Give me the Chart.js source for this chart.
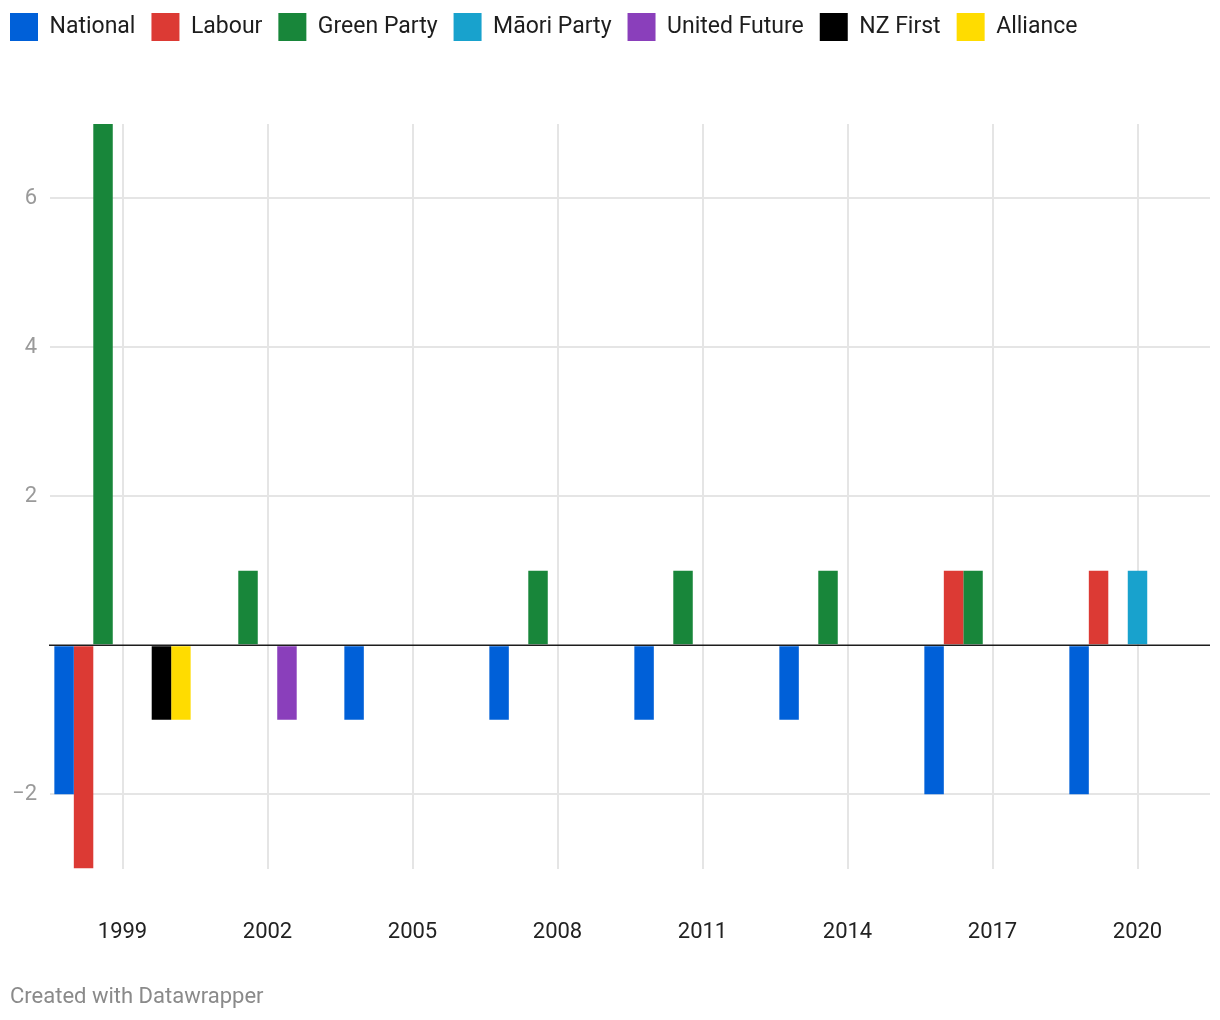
<!DOCTYPE html>
<html>
<head>
<meta charset="utf-8">
<script src="https://cdn.jsdelivr.net/npm/chart.js@4"></script>
<style>
html,body{margin:0;padding:0;background:#fff;width:1220px;height:1020px;overflow:hidden;}
#wrap{position:absolute;left:-6px;top:-3px;width:1226px;height:1023px;}
#footer{position:absolute;left:10px;top:985px;font-family:Roboto,sans-serif;font-size:22px;line-height:22px;color:#8a8a8a;white-space:nowrap;}
</style>
</head>
<body>
<div id="wrap"><canvas id="c" width="1226" height="1023"></canvas></div>
<div id="footer">Created with Datawrapper</div>
<script>
// Categories (election years)
const years = ['1999', '2002', '2005', '2008', '2011', '2014', '2017', '2020'];
// Series values
const national     = [-2, 0, -1, -1, -1, -1, -2, -2];
const labour       = [-3, 0, 0, 0, 0, 0, 1, 1];
const green        = [7, 1, 0, 1, 1, 1, 1, 0];
const maori        = [0, 0, 0, 0, 0, 0, 0, 1];
const unitedFuture = [0, -1, 0, 0, 0, 0, 0, 0];
const nzFirst      = [-1, 0, 0, 0, 0, 0, 0, 0];
const alliance     = [-1, 0, 0, 0, 0, 0, 0, 0];
// Y tick values
const yTicks = [-2, 0, 2, 4, 6];

Chart.defaults.font.family = 'Roboto';

const legendSpacer = {
  id: 'legendSpacer',
  beforeInit(chart) {
    const orig = chart.legend.fit;
    chart.legend.fit = function () { orig.call(this); this.height = 127; };
  }
};

const zeroLine = {
  id: 'zeroLine',
  afterDatasetsDraw(chart) {
    const { ctx, chartArea, scales } = chart;
    const py = scales.y.getPixelForValue(0);
    ctx.save();
    ctx.strokeStyle = '#1d1d1d';
    ctx.lineWidth = 1.6;
    ctx.beginPath();
    ctx.moveTo(chartArea.left - 1, py);
    ctx.lineTo(chartArea.right, py);
    ctx.stroke();
    ctx.restore();
  }
};

function ds(label, data, color) {
  return { label, data, backgroundColor: color, borderWidth: 0, categoryPercentage: 0.94, barPercentage: 1.0 };
}

new Chart(document.getElementById('c'), {
  type: 'bar',
  data: {
    labels: years,
    datasets: [
      ds('National', national, '#0060d8'),
      ds('Labour', labour, '#dc3a34'),
      ds('Green Party', green, '#18863a'),
      ds('M\u0101ori Party', maori, '#18a2cd'),
      ds('United Future', unitedFuture, '#8a3fbb'),
      ds('NZ First', nzFirst, '#000000'),
      ds('Alliance', alliance, '#ffdc00')
    ]
  },
  options: {
    responsive: false,
    animation: false,
    layout: { padding: { left: 0, right: 10, top: 0, bottom: 23 } },
    plugins: {
      legend: {
        position: 'top',
        align: 'start',
        labels: {
          boxWidth: 28,
          boxHeight: 28,
          padding: 16,
          color: '#1d1d1d',
          font: { family: 'Roboto', size: 23 }
        }
      },
      tooltip: { enabled: false }
    },
    scales: {
      x: {
        offset: true,
        border: { display: false },
        grid: { offset: false, color: '#e5e5e5', lineWidth: 2, drawTicks: false },
        ticks: { padding: 51, color: '#222222', font: { family: 'Roboto', size: 22 } }
      },
      y: {
        min: -3,
        max: 7,
        afterBuildTicks: (a) => { a.ticks = yTicks.map(v => ({ value: v })); },
        afterFit: (s) => { s.width = 56; },
        border: { display: false },
        grid: {
          color: (c) => (c.tick && c.tick.value === 0) ? 'rgba(0,0,0,0)' : '#e5e5e5',
          lineWidth: 2,
          drawTicks: false
        },
        ticks: {
          padding: 13,
          color: '#9a9a9a',
          font: { family: 'Roboto', size: 22 },
          callback: (v) => v === 0 ? '' : (v < 0 ? '\u2212' + Math.abs(v) : String(v))
        }
      }
    }
  },
  plugins: [legendSpacer, zeroLine]
});
</script>
</body>
</html>
